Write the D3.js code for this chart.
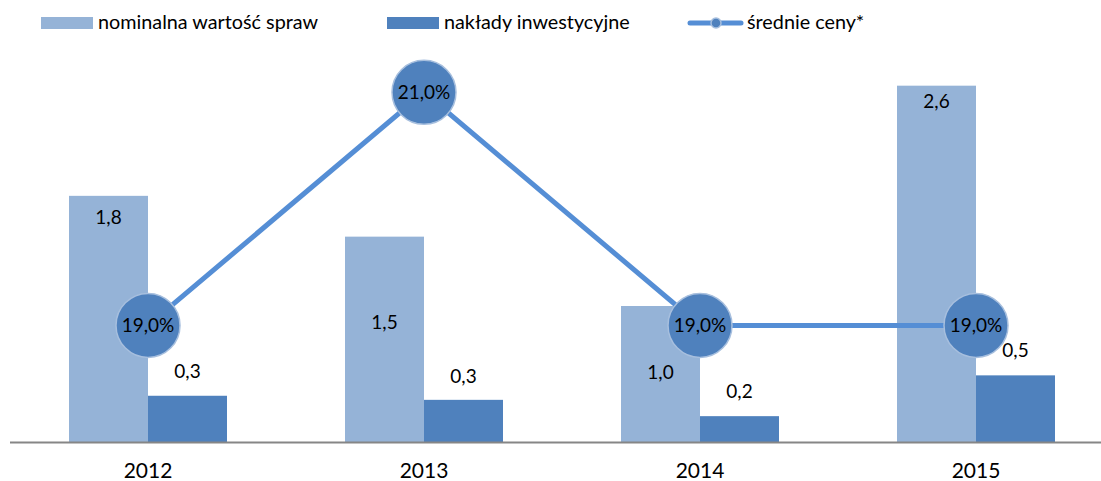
<!DOCTYPE html>
<html>
<head>
<meta charset="utf-8">
<script src="https://cdn.jsdelivr.net/npm/d3@7"></script>
<style>
  html, body { margin: 0; padding: 0; background: #fff; }
  svg { display: block; font-family: Lato, "Noto Sans", sans-serif; }
</style>
</head>
<body>
<svg id="chart" width="1101" height="481"></svg>
<script>
// ---- data ----
const years = ["2012", "2013", "2014", "2015"];
const nominalValues = [1.81, 1.51, 1.0, 2.62];       // nominalna wartość spraw
const investmentValues = [0.34, 0.31, 0.19, 0.49];   // nakłady inwestycyjne
const avgPrices = [19.0, 21.0, 19.0, 19.0];          // średnie ceny* (%)
const seriesNames = ["nominalna wartość spraw", "nakłady inwestycyjne", "średnie ceny*"];

// label nudges (layout only, px relative to bar top)
const nominalLabelDy = [28, 92, 73, 22];
const investLabelDy = [-18, -17, -18, -18];

const colLight = "#95B3D7", colDark = "#4F81BD", colLine = "#558ED5";

const svg = d3.select("#chart");
const baseY = 442, topY = 34;

const x0 = d3.scaleBand().domain(years).range([10, 1114]);
const x1 = d3.scaleBand().domain(["nom", "inv"]).range([0, x0.bandwidth()]).paddingOuter(0.747).paddingInner(0);
const y = d3.scaleLinear().domain([0, 3]).range([baseY, topY]);
const y2 = d3.scaleLinear().domain([18, 21.5]).range([baseY, topY]);

const fmt = v => v.toFixed(1).replace(".", ",");

// bars
const g = svg.append("g");
years.forEach((yr, i) => {
  g.append("rect").attr("x", x0(yr) + x1("nom")).attr("width", x1.bandwidth())
    .attr("y", y(nominalValues[i])).attr("height", baseY - y(nominalValues[i])).attr("fill", colLight);
  g.append("rect").attr("x", x0(yr) + x1("inv")).attr("width", x1.bandwidth())
    .attr("y", y(investmentValues[i])).attr("height", baseY - y(investmentValues[i])).attr("fill", colDark);
});

// axis line
svg.append("line").attr("x1", 10).attr("x2", 1101).attr("y1", baseY + 0.5).attr("y2", baseY + 0.5)
  .attr("stroke", "#868686").attr("stroke-width", 2);

// year labels
const xAxis = d3.axisBottom(x0).tickSize(0).tickPadding(0);
const ax = svg.append("g").attr("transform", `translate(0,${baseY})`).call(xAxis);
ax.select(".domain").remove();
ax.selectAll("text").attr("y", 36).attr("dy", 0).attr("font-size", 21).attr("fill", "#000")
  .attr("font-family", "Lato, sans-serif");

// bar labels
years.forEach((yr, i) => {
  svg.append("text").attr("x", x0(yr) + x1("nom") + x1.bandwidth() / 2)
    .attr("y", y(nominalValues[i]) + nominalLabelDy[i]).attr("text-anchor", "middle")
    .attr("font-size", 19).attr("fill", "#000").text(fmt(nominalValues[i]));
  svg.append("text").attr("x", x0(yr) + x1("inv") + x1.bandwidth() / 2)
    .attr("y", y(investmentValues[i]) + investLabelDy[i]).attr("text-anchor", "middle")
    .attr("font-size", 19).attr("fill", "#000").text(fmt(investmentValues[i]));
});

// line
const cx = yr => x0(yr) + x0.bandwidth() / 2;
const line = d3.line().x((d, i) => cx(years[i])).y(d => y2(d));
svg.append("path").datum(avgPrices).attr("d", line).attr("fill", "none")
  .attr("stroke", colLine).attr("stroke-width", 5);
const pts = svg.append("g");
avgPrices.forEach((v, i) => {
  pts.append("circle").attr("cx", cx(years[i])).attr("cy", y2(v)).attr("r", 32)
    .attr("fill", colDark).attr("stroke", "#A7BFDE").attr("stroke-width", 1.5);
  pts.append("text").attr("x", cx(years[i])).attr("y", y2(v) + 7).attr("text-anchor", "middle")
    .attr("font-size", 19).attr("fill", "#000").text(fmt(v) + "%");
});

// legend
const leg = svg.append("g");
leg.append("rect").attr("x", 41).attr("y", 17).attr("width", 52).attr("height", 12).attr("fill", colLight);
leg.append("text").attr("x", 98).attr("y", 29).attr("font-size", 19.8).attr("fill", "#000").text(seriesNames[0]);
leg.append("rect").attr("x", 387).attr("y", 17).attr("width", 52).attr("height", 12).attr("fill", colDark);
leg.append("text").attr("x", 444).attr("y", 29).attr("font-size", 19.8).attr("fill", "#000").text(seriesNames[1]);
leg.append("line").attr("x1", 690).attr("x2", 741).attr("y1", 23).attr("y2", 23)
  .attr("stroke", colLine).attr("stroke-width", 5).attr("stroke-linecap", "round");
leg.append("circle").attr("cx", 716).attr("cy", 23).attr("r", 5).attr("fill", colDark)
  .attr("stroke", "#A7BFDE").attr("stroke-width", 1.5);
leg.append("text").attr("x", 747).attr("y", 29).attr("font-size", 19.8).attr("fill", "#000").text(seriesNames[2]);
</script>
</body>
</html>
